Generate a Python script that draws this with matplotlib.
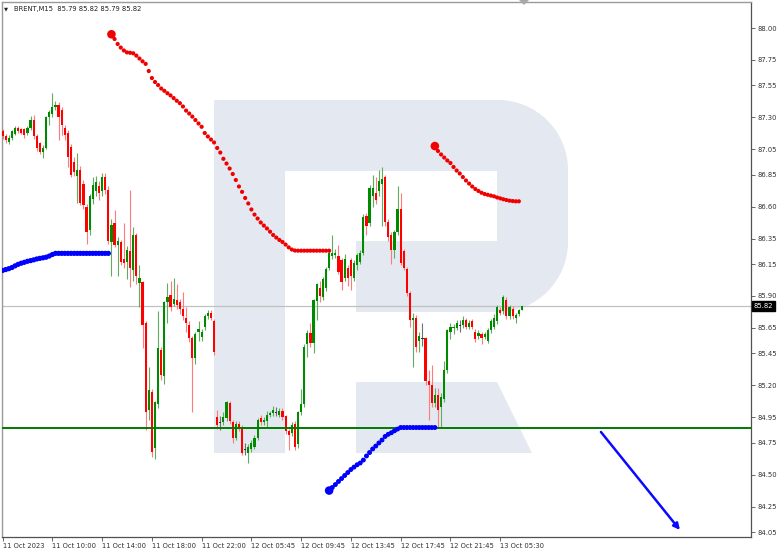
import matplotlib
matplotlib.use("Agg")
import matplotlib.pyplot as plt
import numpy as np
from matplotlib.path import Path
from matplotlib.patches import PathPatch, Polygon
from matplotlib.transforms import Affine2D, blended_transform_factory

# ---------------- data ----------------
title_text = "BRENT,M15  85.79 85.82 85.79 85.82"

opens = [87.19, 87.15, 87.11, 87.14, 87.17, 87.22, 87.21, 87.21, 87.18, 87.22,
         87.28, 87.15, 87.10, 87.03, 87.06, 87.30, 87.33, 87.38, 87.40, 87.36,
         87.22, 87.18, 87.07, 86.95, 86.84, 86.89, 86.78, 86.60, 86.42, 86.66,
         86.72, 86.76, 86.72, 86.83, 86.73, 86.32, 86.47, 86.30, 86.32, 86.19,
         86.17, 86.25, 86.10, 86.38, 86.00, 86.01, 85.69, 85.01, 85.15, 84.71,
         85.05, 85.48, 85.27, 85.85, 85.91, 85.84, 85.87, 85.85, 85.80, 85.73,
         85.67, 85.57, 85.41, 85.62, 85.58, 85.66, 85.74, 85.77, 85.70, 84.95,
         84.91, 84.91, 84.94, 85.06, 84.91, 84.79, 84.90, 84.87, 84.70, 84.67,
         84.70, 84.72, 84.79, 84.94, 84.91, 84.92, 84.97, 84.98, 84.99, 84.97,
         85.00, 84.96, 84.84, 84.83, 84.90, 84.74, 84.99, 85.05, 85.52, 85.61,
         85.53, 85.86, 85.96, 85.89, 85.96, 86.12, 86.21, 86.22, 86.21, 86.18,
         86.04, 86.12, 86.18, 86.04, 86.14, 86.17, 86.24, 86.53, 86.47, 86.68,
         86.71, 86.72, 86.78, 86.83, 86.48, 86.38, 86.26, 86.40, 86.58, 86.25,
         86.11, 85.92, 85.71, 85.73, 85.55, 85.57, 85.57, 85.23, 85.20, 85.06,
         85.12, 85.03, 85.09, 85.32, 85.62, 85.65, 85.65, 85.67, 85.67, 85.71,
         85.66, 85.70, 85.62, 85.59, 85.60, 85.58, 85.55, 85.63, 85.66, 85.70,
         85.79, 85.78, 85.87, 85.74, 85.80, 85.73, 85.76, 85.79]
highs = [87.21, 87.17, 87.16, 87.20, 87.23, 87.23, 87.22, 87.22, 87.23, 87.31,
         87.32, 87.17, 87.11, 87.08, 87.31, 87.36, 87.49, 87.43, 87.42, 87.38,
         87.24, 87.20, 87.09, 86.99, 87.02, 86.92, 86.81, 86.62, 86.70, 86.83,
         86.84, 86.80, 86.86, 86.86, 86.76, 86.50, 86.57, 86.36, 86.34, 86.47,
         86.29, 86.73, 86.44, 86.39, 86.14, 86.02, 85.70, 85.34, 85.17, 85.08,
         85.78, 85.50, 85.86, 86.00, 86.02, 86.04, 85.99, 85.88, 85.93, 85.81,
         85.70, 85.59, 85.62, 85.70, 85.64, 85.76, 85.79, 85.79, 85.72, 85.01,
         84.96, 84.99, 85.08, 85.08, 84.93, 84.92, 84.92, 84.89, 84.75, 84.74,
         84.77, 84.81, 84.94, 84.97, 84.95, 85.00, 85.00, 85.04, 85.03, 85.02,
         85.02, 84.97, 84.86, 84.91, 84.92, 85.00, 85.17, 85.52, 85.63, 85.69,
         85.88, 86.00, 86.02, 86.05, 86.13, 86.26, 86.38, 86.27, 86.30, 86.20,
         86.23, 86.14, 86.20, 86.18, 86.24, 86.26, 86.54, 86.55, 86.77, 86.85,
         86.83, 86.89, 86.91, 86.85, 86.50, 86.40, 86.42, 86.76, 86.71, 86.27,
         86.13, 85.94, 85.77, 85.75, 85.62, 85.69, 85.58, 85.32, 85.36, 85.18,
         85.18, 85.14, 85.39, 85.64, 85.69, 85.68, 85.71, 85.71, 85.74, 85.73,
         85.71, 85.72, 85.64, 85.63, 85.62, 85.62, 85.65, 85.72, 85.76, 85.83,
         85.81, 85.91, 85.89, 85.83, 85.82, 85.77, 85.80, 85.82]
lows = [87.13, 87.10, 87.09, 87.12, 87.16, 87.18, 87.17, 87.14, 87.16, 87.20,
        87.13, 87.04, 87.01, 86.98, 87.05, 87.24, 87.30, 87.36, 87.12, 87.16,
        87.12, 86.91, 86.83, 86.84, 86.63, 86.61, 86.58, 86.31, 86.38, 86.62,
        86.68, 86.65, 86.68, 86.70, 86.31, 86.06, 86.28, 86.06, 86.14, 86.12,
        86.03, 85.97, 86.02, 85.99, 85.81, 85.49, 84.85, 84.93, 84.64, 84.62,
        85.02, 85.24, 85.21, 85.69, 85.78, 85.82, 85.80, 85.76, 85.71, 85.62,
        85.54, 84.99, 85.37, 85.55, 85.55, 85.63, 85.72, 85.71, 85.44, 84.86,
        84.85, 84.89, 84.92, 84.90, 84.75, 84.77, 84.84, 84.65, 84.65, 84.59,
        84.68, 84.70, 84.77, 84.89, 84.89, 84.87, 84.95, 84.96, 84.96, 84.95,
        84.93, 84.82, 84.69, 84.80, 84.69, 84.71, 84.97, 85.03, 85.42, 85.50,
        85.45, 85.71, 85.85, 85.87, 85.94, 86.10, 86.19, 86.20, 86.07, 85.95,
        86.02, 85.98, 85.95, 86.02, 86.10, 86.15, 86.22, 86.38, 86.45, 86.60,
        86.62, 86.68, 86.45, 86.45, 86.33, 86.15, 86.20, 86.38, 86.14, 86.10,
        85.90, 85.66, 85.34, 85.46, 85.46, 85.51, 85.20, 84.93, 85.03, 85.03,
        84.87, 84.87, 85.07, 85.30, 85.56, 85.60, 85.63, 85.62, 85.65, 85.64,
        85.64, 85.64, 85.54, 85.56, 85.52, 85.56, 85.53, 85.61, 85.64, 85.68,
        85.75, 85.76, 85.72, 85.72, 85.72, 85.69, 85.74, 85.79]
closes = [87.15, 87.12, 87.14, 87.19, 87.22, 87.19, 87.18, 87.16, 87.22, 87.28,
          87.15, 87.06, 87.03, 87.06, 87.30, 87.34, 87.38, 87.40, 87.30, 87.24,
          87.16, 86.99, 86.85, 86.87, 86.89, 86.63, 86.61, 86.40, 86.68, 86.77,
          86.79, 86.71, 86.83, 86.73, 86.33, 86.46, 86.30, 86.33, 86.17, 86.16,
          86.26, 86.12, 86.38, 86.06, 86.04, 85.67, 84.99, 85.16, 84.68, 85.07,
          85.49, 85.28, 85.85, 85.89, 85.81, 85.88, 85.83, 85.80, 85.74, 85.69,
          85.57, 85.41, 85.60, 85.64, 85.62, 85.74, 85.77, 85.73, 85.46, 84.89,
          84.91, 84.95, 85.07, 84.92, 84.79, 84.90, 84.86, 84.67, 84.70, 84.72,
          84.75, 84.79, 84.93, 84.91, 84.93, 84.97, 84.98, 85.01, 84.99, 85.00,
          84.95, 84.84, 84.81, 84.89, 84.72, 84.99, 85.05, 85.50, 85.61, 85.53,
          85.87, 85.99, 85.90, 86.03, 86.11, 86.24, 86.24, 86.24, 86.09, 86.01,
          86.19, 86.04, 86.06, 86.16, 86.22, 86.24, 86.52, 86.45, 86.75, 86.75,
          86.65, 86.80, 86.82, 86.48, 86.36, 86.26, 86.40, 86.58, 86.16, 86.12,
          85.92, 85.71, 85.73, 85.50, 85.59, 85.57, 85.23, 85.20, 85.06, 85.12,
          85.01, 85.11, 85.32, 85.63, 85.66, 85.66, 85.69, 85.67, 85.71, 85.66,
          85.69, 85.66, 85.56, 85.61, 85.57, 85.60, 85.63, 85.70, 85.73, 85.81,
          85.77, 85.89, 85.74, 85.81, 85.74, 85.75, 85.79, 85.82]

# dotted indicator lines (start bar index + values per bar)
red1_start = 35
red1 = [87.951, 87.914, 87.875, 87.847, 87.824, 87.809, 87.806, 87.802, 87.784, 87.761,
        87.739, 87.719, 87.663, 87.608, 87.577, 87.553, 87.526, 87.508, 87.489, 87.472,
        87.451, 87.430, 87.411, 87.385, 87.353, 87.330, 87.306, 87.279, 87.252, 87.226,
        87.177, 87.150, 87.126, 87.103, 87.060, 87.024, 86.975, 86.938, 86.899, 86.856,
        86.809, 86.758, 86.716, 86.668, 86.625, 86.578, 86.538, 86.507, 86.476, 86.452,
        86.429, 86.404, 86.378, 86.358, 86.339, 86.323, 86.303, 86.281, 86.264, 86.256,
        86.255, 86.255, 86.255, 86.255, 86.255, 86.255, 86.255, 86.255, 86.255, 86.255,
        86.255]
red2_start = 139
red2 = [87.075, 87.036, 87.009, 86.985, 86.962, 86.942, 86.911, 86.883, 86.860, 86.832,
        86.805, 86.781, 86.758, 86.738, 86.723, 86.709, 86.699, 86.693, 86.687, 86.681,
        86.672, 86.665, 86.658, 86.652, 86.647, 86.644, 86.642, 86.642]
blue1_start = 0
blue1 = [86.100, 86.107, 86.114, 86.123, 86.136, 86.148, 86.157, 86.164, 86.172, 86.177,
         86.183, 86.190, 86.195, 86.199, 86.204, 86.213, 86.225, 86.234, 86.234, 86.234,
         86.234, 86.234, 86.234, 86.234, 86.234, 86.234, 86.234, 86.234, 86.234, 86.234,
         86.234, 86.234, 86.234, 86.234, 86.234]
blue2_start = 105
blue2 = [84.375, 84.399, 84.422, 84.446, 84.469, 84.493, 84.516, 84.540, 84.559, 84.577,
         84.591, 84.614, 84.646, 84.673, 84.701, 84.724, 84.748, 84.771, 84.799, 84.816,
         84.828, 84.843, 84.857, 84.869, 84.869, 84.869, 84.869, 84.869, 84.869, 84.869,
         84.869, 84.869, 84.869, 84.869, 84.869]

support_level = 84.865
current_price = 85.82
forecast_start = (192.4, 84.834)
forecast_end = (217.8, 84.066)

x_tick_bars = [0, 16, 32, 48, 64, 80, 96, 112, 128, 144, 160]
x_tick_labels = ["11 Oct 2023", "11 Oct 10:00", "11 Oct 14:00", "11 Oct 18:00",
                 "11 Oct 22:00", "12 Oct 05:45", "12 Oct 09:45", "12 Oct 13:45",
                 "12 Oct 17:45", "12 Oct 21:45", "13 Oct 05:30"]
y_tick_labels = ["88.00", "87.75", "87.55", "87.30", "87.05", "86.85", "86.60", "86.35",
                 "86.15", "85.90", "85.65", "85.45", "85.20", "84.95", "84.75", "84.50",
                 "84.25", "84.05"]

# ---------------- figure ----------------
W, H = 782, 554
fig = plt.figure(figsize=(W / 100, H / 100), dpi=100)
fig.patch.set_facecolor("white")
ax = fig.add_axes([2 / W, (H - 537) / H, 749 / W, 535 / H])
ax.set_facecolor("white")
ax.set_xlim(-0.19, 240.65)
ax.set_ylim(84.011, 88.204)

pix = Affine2D().scale(1, -1).translate(0, H)  # image pixel coords -> display

# watermark logo
k = 0.552 * 70
verts = [(214, 100), (498, 100),
         (498 + k, 100), (568, 170 - k), (568, 170),
         (568, 242),
         (568, 242 + k), (498 + k, 312), (498, 312),
         (356, 312), (356, 241), (497, 241), (497, 171), (285, 171),
         (285, 453), (214, 453), (214, 100)]
codes = [Path.MOVETO, Path.LINETO,
         Path.CURVE4, Path.CURVE4, Path.CURVE4,
         Path.LINETO,
         Path.CURVE4, Path.CURVE4, Path.CURVE4,
         Path.LINETO, Path.LINETO, Path.LINETO, Path.LINETO, Path.LINETO,
         Path.LINETO, Path.LINETO, Path.CLOSEPOLY]
logo_col = "#e4e9f1"
ax.add_patch(PathPatch(Path(verts, codes), transform=pix, facecolor=logo_col,
                       edgecolor="none", zorder=0.5))
ax.add_patch(Polygon([(356, 382), (497, 382), (532, 453), (356, 453)], closed=True,
                     transform=pix, facecolor=logo_col, edgecolor="none", zorder=0.5))

# current price line
ax.axhline(current_price, color="#c0c0c0", lw=0.9, zorder=1)

# candles
o = np.array(opens); h = np.array(highs); l = np.array(lows); c = np.array(closes)
idx = np.arange(len(o))
GREEN = "#008a00"
RED = "#ff0000"
cols = np.where(c > o, GREEN, np.where(c < o, RED, "#303030"))
wick_cols = np.where(c > o, "#5fae5f", np.where(c < o, "#ff7a7a", "#707070"))
ax.vlines(idx, l, h, colors=wick_cols, lw=0.8, zorder=2)
bottoms = np.minimum(o, c)
heights = np.maximum(np.abs(c - o), 0.008)
ax.bar(idx, heights, bottom=bottoms - np.where(np.abs(c - o) < 0.008, 0.004, 0),
       width=0.7, color=cols, edgecolor="none", zorder=3)

# support line
ax.axhline(support_level, color="#007a00", lw=1.4, zorder=4)

# dotted lines
def dots(start, vals, color, big=True):
    xs = np.arange(start, start + len(vals))
    ax.scatter(xs, vals, s=9, color=color, edgecolors="none", zorder=5)
    if big:
        ax.scatter([xs[0]], [vals[0]], s=38, color=color, edgecolors="none", zorder=5)

dots(red1_start, red1, "#f00000")
dots(red2_start, red2, "#f00000")
dots(blue1_start, blue1, "#0000ff", big=False)
ax.scatter(np.arange(blue1_start, blue1_start + len(blue1)), blue1, s=14,
           color="#0000ff", edgecolors="none", zorder=5)
dots(blue2_start, blue2, "#0000ff")
ax.scatter(np.arange(blue2_start, blue2_start + len(blue2)), blue2, s=12,
           color="#0000ff", edgecolors="none", zorder=5)

# forecast arrow
ax.annotate("", xy=forecast_end, xytext=forecast_start,
            arrowprops=dict(arrowstyle="-|>", color="#0a0aff", lw=1.8,
                            mutation_scale=9, shrinkA=0, shrinkB=0), zorder=6)

# axes styling
for side in ["left", "top"]:
    ax.spines[side].set_color("#9a9a9a")
    ax.spines[side].set_linewidth(1.0)
for side in ["right", "bottom"]:
    ax.spines[side].set_color("#505050")
    ax.spines[side].set_linewidth(0.9)

fs = 4.9
txt_col = "#303030"
ax.yaxis.tick_right()
ax.set_yticks([float(s) for s in y_tick_labels], y_tick_labels)
ax.tick_params(axis="y", direction="out", length=3, width=0.6, pad=2,
               labelsize=fs, colors="#505050", labelcolor=txt_col)
ax.set_xticks(x_tick_bars, x_tick_labels)
ax.tick_params(axis="x", direction="out", length=3, width=0.6, pad=1.5,
               labelsize=fs, colors="#505050", labelcolor=txt_col)
for lab in ax.get_xticklabels():
    lab.set_horizontalalignment("left")

# current price box
bt = blended_transform_factory(ax.transAxes, ax.transData)
ax.text(1.004, current_price, "85.82", transform=bt, fontsize=fs, color="white",
        va="center", ha="left", zorder=10, clip_on=False,
        bbox=dict(boxstyle="square,pad=0.25", facecolor="black", edgecolor="black"))

# title
fig.text(4 / W, 1 - 9 / H, "\u25BC", fontsize=3.8, color="#202020", va="center", ha="left")
fig.text(14 / W, 1 - 9 / H, title_text, fontsize=fs, color="#202020",
         va="center", ha="left")

# top shift marker
fig.patches.append(Polygon([(519, 0), (529, 0), (524, 5)], closed=True, transform=pix,
                           facecolor="#a8a8a8", edgecolor="none"))

fig.savefig("out.png", dpi=100, facecolor="white")
